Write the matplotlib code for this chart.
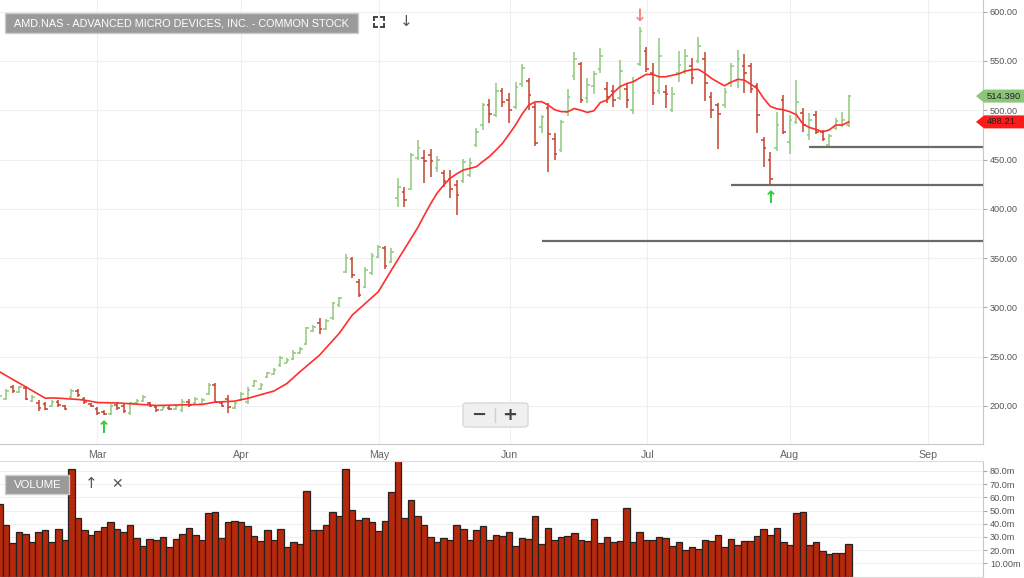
import matplotlib
matplotlib.use('Agg')
import matplotlib.pyplot as plt
import numpy as np
from matplotlib.patches import Rectangle, Polygon, FancyBboxPatch
from matplotlib.lines import Line2D
from matplotlib.transforms import IdentityTransform

plt.rcParams['font.family'] = ['Liberation Sans', 'DejaVu Sans']

# ---------------- data ----------------
opens = [205, 207, 219, 214, 218, 205, 203, 202, 200, 204,
         200, 209, 215, 207, 202, 197, 194, 192, 201, 200,
         193, 203, 205, 203, 199, 196, 198, 197, 196, 204,
         203, 202, 212, 221, 203, 207, 198, 206, 204, 220,
         217, 229, 232, 241, 244, 248, 254, 263, 276, 284,
         278, 289, 302, 336, 349, 326, 321, 335, 351, 360,
         346, 410.6, 417, 420, 452, 452, 455, 441, 436, 430,
         424, 428, 434, 465, 485, 505, 495, 520, 510, 503,
         527, 530, 503, 483, 502, 471, 460, 498, 535, 547,
         512, 525, 542, 522, 520, 512, 522, 500, 547, 560,
         538, 520, 519, 500, 538, 540, 545, 550, 552, 513,
         505, 505, 528, 530, 545, 545, 525, 470, 450, 462,
         510, 468, 488, 497, 475, 495, 478, 465, 482, 485,
         485]
highs = [212, 217.6, 221, 220, 220, 210.9, 205.8, 204, 205.8, 205.8,
         200.7, 217.6, 217.6, 209.2, 203, 199, 195.6, 202.4, 204, 202.4,
         204, 206.5, 210.9, 204, 200.7, 200.7, 199.7, 201.7, 206.5, 206.5,
         209.2, 207.5, 222.7, 222.7, 204, 210.9, 204, 214.3, 219.3, 226.1,
         222.7, 234.6, 238, 250.5, 248.1, 256.6, 260, 280.3, 282, 288.7,
         287.7, 305.6, 310.7, 354, 350.7, 328.3, 340.5, 355.4, 363.2, 362.2,
         359.8, 431, 422.4, 456.2, 469.8, 459.6, 460.3, 453.5, 439.3, 439.3,
         429.2, 450.2, 451.5, 481.6, 507.7, 511, 528, 522.2, 517.8, 529,
         547, 532.4, 507, 495.5, 507.5, 477, 490, 521.5, 558.7, 549.2,
         532.3, 539.7, 562.8, 528.9, 525.5, 550.9, 527.2, 534, 584.8, 564.5,
         547.5, 572.9, 525.5, 523.8, 560.1, 562.1, 552.6, 574.6, 558.7, 518.8,
         507, 522.2, 548.3, 561.1, 557.1, 548.3, 528, 473.2, 457.9, 498.5,
         515.5, 495.2, 530.7, 502, 496.8, 499.6, 480, 475.9, 491.8, 498.5,
         515.5]
lows = [204, 205.8, 213, 212.6, 205.8, 204, 195, 195.6, 199, 199,
        195.6, 207.5, 209.2, 202.4, 199, 190.6, 190.6, 190.6, 195.6, 192.3,
        190.6, 201.7, 204, 199, 194, 195.6, 195.6, 196.3, 194, 199,
        202.4, 200.7, 210.9, 203, 199, 193, 197.3, 205, 202.4, 219.3,
        216, 227.8, 231.2, 239.7, 243, 246.4, 252.5, 261.6, 275.2, 272.8,
        276.9, 287, 300.6, 334.4, 329.3, 310.7, 319.2, 332.7, 349.6, 338.5,
        344.6, 402, 401.4, 419, 450, 425.8, 432.6, 437.6, 422.4, 410.6,
        393.6, 426.5, 431.9, 462.3, 479.9, 486.7, 493.5, 503.6, 486.7, 500.9,
        524, 500.2, 463.7, 477.3, 437, 450, 457.9, 494.4, 530.6, 507,
        507, 517, 537.4, 507, 503.5, 510.3, 501.8, 495.8, 545.2, 539,
        505.2, 517, 502.5, 497.8, 528.9, 536.4, 526.2, 547.5, 509.5, 491.8,
        460.3, 501.9, 523.2, 522.2, 517.8, 517.8, 477.2, 442, 424.1, 459,
        475.9, 455.6, 486, 478.2, 469.8, 475.9, 469.1, 462.3, 480, 482.6,
        482.6]
closes = [210, 215, 215, 219, 207, 209, 198, 197, 204, 201,
          197, 215, 211, 204, 200, 193, 192, 200, 198, 195,
          203, 205, 209, 200, 196, 199, 197, 200, 204, 201,
          207, 206, 221, 204, 200, 199, 203, 212, 216, 225,
          221, 233, 236, 249, 247, 254, 258, 279, 280, 278,
          286, 304, 309, 350, 333, 313, 338, 352, 361, 342,
          356, 422.4, 409, 455, 462, 449, 448, 450, 428, 420,
          414, 447, 446, 478, 505, 496, 520, 508, 500, 524,
          543, 515, 467, 493, 476, 456, 488, 513, 552, 510,
          526, 537, 555, 513, 510, 540, 510, 530, 580, 542,
          518, 555, 516, 517, 546, 555, 533, 565, 528, 500,
          496, 519, 545, 552, 538, 522, 495, 462, 430, 485,
          478, 490, 508, 485, 490, 478, 471, 474, 489, 490,
          514.39]
ma = [234.6, 230.8, 227.0, 223.1, 219.3, 215.5, 211.6, 207.8, 208.0, 207.8,
      207.4, 207.0, 206.5, 205.8, 204.6, 203.4, 203.2, 203.1, 203.0, 202.6,
      202.1, 201.7, 201.3, 200.8, 200.4, 200.5, 200.7, 200.9, 201.0, 201.2,
      201.3, 201.4, 202.6, 203.8, 204.1, 204.5, 204.8, 206.3, 207.6, 209.5,
      211.4, 213.2, 215.0, 218.8, 222.7, 228.6, 234.6, 240.2, 245.9, 251.5,
      258.8, 266.2, 273.5, 282.8, 292.1, 298.0, 304.0, 309.9, 315.8, 326.8,
      337.8, 348.5, 359.3, 370.0, 380.5, 393.0, 405.0, 416.0, 424.0, 431.0,
      435.5, 439.3, 441.0, 442.7, 448.0, 453.0, 459.5, 466.4, 475.5, 485.0,
      496.0, 505.0, 508.5, 508.7, 505.3, 500.5, 498.6, 498.5, 501.8, 500.0,
      497.8, 499.5, 507.9, 510.3, 518.0, 524.0, 527.0, 528.9, 532.6, 536.4,
      536.4, 534.0, 534.0, 535.5, 537.0, 539.7, 541.2, 541.5, 537.5, 532.4,
      528.5, 524.9, 528.5, 531.4, 530.7, 526.5, 522.0, 512.0, 504.0, 501.5,
      500.5, 498.5, 495.5, 486.0, 482.5, 480.6, 478.2, 479.9, 485.0, 485.0,
      488.21]
volume = [54.7, 38.8, 25.1, 33.5, 31.9, 25.9, 33.5, 35.2, 25.9, 36.2,
          27.9, 81.2, 44.6, 35.0, 31.4, 34.2, 37.5, 41.0, 36.2, 33.5,
          38.8, 29.4, 23.4, 28.7, 27.4, 30.2, 22.6, 28.7, 31.9, 36.9,
          31.4, 27.4, 48.4, 48.9, 29.4, 41.0, 42.3, 41.0, 38.3, 30.9,
          26.6, 35.5, 27.4, 36.2, 22.6, 25.9, 24.6, 64.8, 35.5, 35.0,
          38.8, 49.1, 45.8, 81.2, 50.4, 43.0, 44.6, 41.5, 34.2, 41.8,
          64.3, 90.0, 44.6, 58.2, 45.8, 39.0, 30.2, 25.9, 29.4, 27.9,
          39.0, 36.2, 27.4, 35.0, 38.3, 27.4, 31.4, 30.7, 33.5, 23.4,
          29.0, 28.3, 46.0, 24.7, 37.1, 27.5, 29.8, 30.8, 33.1, 27.5,
          27.0, 43.5, 25.5, 29.8, 26.2, 27.0, 52.1, 26.2, 33.8, 27.5,
          27.5, 30.3, 29.0, 23.4, 26.2, 20.1, 22.2, 20.9, 27.5, 27.0,
          31.5, 22.7, 28.3, 24.2, 27.0, 27.0, 31.0, 35.8, 31.5, 36.6,
          26.2, 24.2, 48.0, 48.8, 24.2, 26.2, 19.4, 17.3, 17.9, 17.9,
          24.7]

month_labels = ['Mar', 'Apr', 'May', 'Jun', 'Jul', 'Aug', 'Sep']
month_pos = [15.0, 37.0, 58.1, 78.1, 99.2, 121.0, 142.1]
price_ticks = [200, 250, 300, 350, 400, 450, 500, 550, 600]
vol_ticks = [10, 20, 30, 40, 50, 60, 70, 80]
vol_tick_labels = ['10.00m', '20.0m', '30.0m', '40.0m', '50.0m', '60.0m', '70.0m', '80.0m']
support_levels = [462.3, 424.1, 367.2]
support_start = [124, 112, 83]
signal_up = [16, 118]
signal_down = [98]
title = 'AMD.NAS - ADVANCED MICRO DEVICES, INC. - COMMON STOCK'

# ---------------- figure ----------------
W, H = 1024, 578
fig = plt.figure(figsize=(W / 100, H / 100), dpi=100)
fig.patch.set_facecolor('white')


def rect(x0, y0, x1, y1):
    return [x0 / W, 1 - y1 / H, (x1 - x0) / W, (y1 - y0) / H]


ax = fig.add_axes(rect(0, 0, 983, 444))
axv = fig.add_axes(rect(0, 461, 983, 576.5))

GREEN = '#8fc97c'
RED = '#c2412c'
GRID = '#efefef'

o = np.array(opens, float)
h = np.array(highs, float)
l = np.array(lows, float)
c = np.array(closes, float)
idx = np.arange(len(c))
cols = np.where(c >= o, GREEN, RED)

ax.set_xlim(0.08, 150.57)
ax.set_ylim(161.3, 611.9)
ax.vlines(idx, l, h, colors=cols, lw=1.1, zorder=2)
ax.hlines(o, idx - 0.4, idx, colors=cols, lw=1.1, zorder=2)
ax.hlines(c, idx, idx + 0.4, colors=cols, lw=1.1, zorder=2)
ax.plot(idx, ma, color='#ff2e2e', lw=1.2, zorder=3)

xr = ax.get_xlim()[1]
for lev, st in zip(support_levels, support_start):
    ax.hlines(lev, st, xr, color='#6a6a6a', lw=1.6, zorder=3)

for k in signal_up:
    ax.annotate('↑', (k, lows[k]), xytext=(0, -9), textcoords='offset points',
                ha='center', va='center', color='#2fcc3a', fontsize=12,
                fontweight='bold', family='DejaVu Sans')
for k in signal_down:
    ax.annotate('↓', (k, highs[k]), xytext=(0, 8), textcoords='offset points',
                ha='center', va='center', color='#ef8a80', fontsize=12,
                fontweight='bold', family='DejaVu Sans')

ax.set_xticks(month_pos, month_labels)
ax.set_yticks(price_ticks, [f'{p:.2f}' for p in price_ticks])
ax.yaxis.tick_right()
ax.tick_params(axis='x', length=0, pad=4, labelsize=7.7, labelcolor='#666666')
ax.tick_params(axis='y', length=3, color='#aaaaaa', pad=2, labelsize=6.6,
               labelcolor='#555555')
ax.grid(True, color=GRID, lw=0.8)
ax.set_axisbelow(True)
for s in ['top', 'left']:
    ax.spines[s].set_visible(False)
ax.spines['right'].set_color('#c8c8c8')
ax.spines['bottom'].set_color('#c8c8c8')

# volume
axv.bar(idx, volume, width=1.0, color='#b8290c', edgecolor='#222222', lw=0.9, zorder=2)
axv.set_xlim(ax.get_xlim())
axv.set_ylim(0, 87.5)
axv.yaxis.tick_right()
axv.set_yticks(vol_ticks, vol_tick_labels)
axv.set_xticks([])
axv.tick_params(axis='y', length=3, color='#aaaaaa', pad=2, labelsize=6.6,
                labelcolor='#555555')
axv.grid(True, axis='y', color=GRID, lw=0.8)
axv.set_axisbelow(True)
axv.spines['left'].set_visible(False)
axv.spines['bottom'].set_color('#dddddd')
axv.spines['top'].set_color('#dddddd')
axv.spines['right'].set_color('#c8c8c8')

# ---------------- overlays (pixel coordinates) ----------------
T = IdentityTransform()


def P(x, y):
    return (x, H - y)


fig.add_artist(Rectangle(P(5, 33), 353, 20, fc='#9a9a9a', ec='#cdcdcd', lw=1, transform=T))
fig.text(*P(14, 23.5), title, transform=T, color='white', fontsize=7.85,
         ha='left', va='center')
# fullscreen icon
cx, cy, s, a = 379, 22, 5, 3
for dx in (-1, 1):
    for dy in (-1, 1):
        x0, y0 = cx + dx * s, cy + dy * s
        fig.add_artist(Line2D([x0, x0 - dx * a], [H - y0, H - y0], color='#444444', lw=1.4, transform=T))
        fig.add_artist(Line2D([x0, x0], [H - y0, H - (y0 - dy * a)], color='#444444', lw=1.4, transform=T))
fig.text(*P(406, 22), '↓', transform=T, color='#555555', fontsize=11,
         ha='center', va='center', family='DejaVu Sans')

fig.add_artist(Rectangle(P(5, 494), 64, 19, fc='#9a9a9a', ec='#cdcdcd', lw=1, transform=T))
fig.text(*P(14, 484.5), 'VOLUME', transform=T, color='white', fontsize=8.2,
         ha='left', va='center')
fig.text(*P(91, 484), '↑', transform=T, color='#555555', fontsize=11,
         ha='center', va='center', family='DejaVu Sans')
fig.text(*P(117, 484), '✕', transform=T, color='#555555', fontsize=10,
         ha='center', va='center', family='DejaVu Sans')

# zoom control
fig.add_artist(FancyBboxPatch(P(463, 427), 65, 24, boxstyle='round,pad=0,rounding_size=3',
                              fc='#f0f0f0', ec='#d8d8d8', lw=1, transform=T))
fig.add_artist(Line2D([495, 495], [H - 408, H - 422], color='#d0d0d0', lw=1, transform=T))
fig.text(*P(479, 415), '−', transform=T, color='#444444', fontsize=13,
         ha='center', va='center', fontweight='bold', family='DejaVu Sans')
fig.text(*P(510, 415), '+', transform=T, color='#444444', fontsize=13,
         ha='center', va='center', fontweight='bold', family='DejaVu Sans')

# price labels on the right
fig.canvas.draw()


def price_label(val, txt, fc):
    yd = ax.transData.transform((0, val))[1]
    hh = 6.5
    poly = Polygon([(976, yd), (984, yd + hh), (1024, yd + hh), (1024, yd - hh), (984, yd - hh)],
                   closed=True, fc=fc, ec='none', transform=T)
    fig.add_artist(poly)
    fig.text(987, yd, txt, transform=T, color='#222222', fontsize=6.8,
             ha='left', va='center')


price_label(closes[-1], f'{closes[-1]:.3f}', '#8cc47a')
price_label(ma[-1], f'{ma[-1]:.2f}', '#ff1a1a')

fig.savefig('out.png', dpi=100)
